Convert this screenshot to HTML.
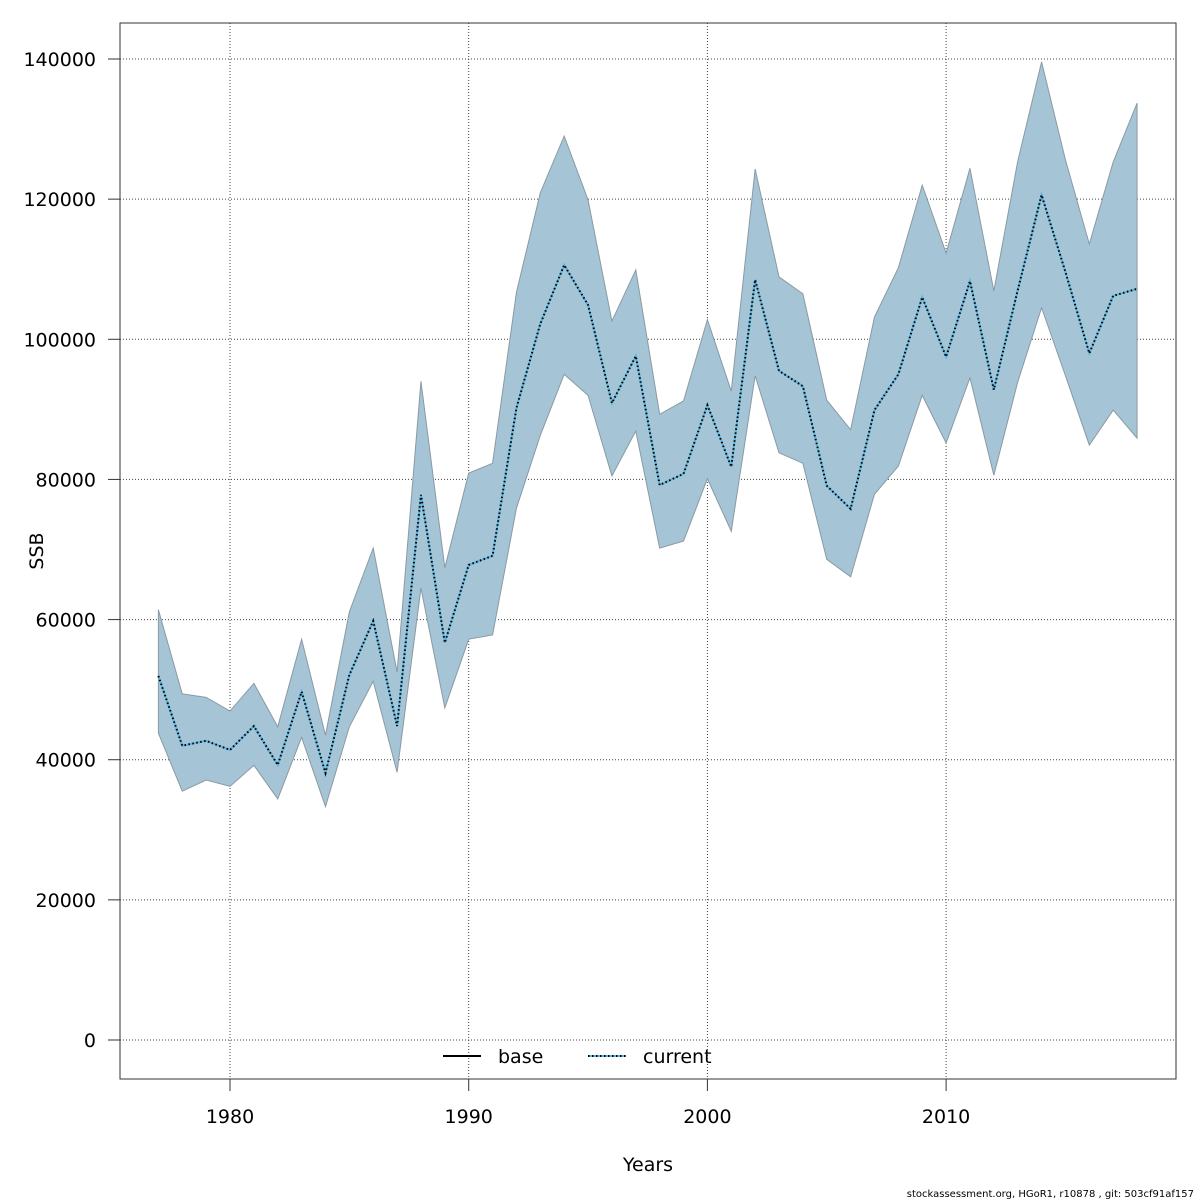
<!DOCTYPE html>
<html><head><meta charset="utf-8"><style>
html,body{margin:0;padding:0;background:#fff;}
svg{display:block;font-family:"DejaVu Sans","Liberation Sans",sans-serif;}
</style></head><body>
<svg id="chart" width="1200" height="1200" viewBox="0 0 1200 1200">
<rect x="0" y="0" width="1200" height="1200" fill="#fff"/>
<g id="grid"></g>
<g id="band"></g>
<g id="lines"></g>
<rect x="120" y="23" width="1056" height="1056" fill="none" stroke="#333" stroke-width="1"/>
<g id="axes"></g>
<text x="648" y="1171" font-size="19" text-anchor="middle">Years</text>
<text transform="translate(43,551) rotate(-90)" font-size="19" text-anchor="middle">SSB</text>
<g>
<g>
<line x1="443" y1="1056" x2="481" y2="1056" stroke="#000" stroke-width="2"/>
<text x="498" y="1063" font-size="19">base</text></g>
<g>
<line x1="588" y1="1056" x2="626" y2="1056" stroke="#5ab4e0" stroke-width="2"/>
<line x1="588" y1="1056" x2="626" y2="1056" stroke="#000" stroke-width="2" stroke-dasharray="1.5,2.5"/>
<text x="643" y="1063" font-size="19">current</text></g>
</g>
<text x="1194" y="1197" font-size="10" text-anchor="end">stockassessment.org, HGoR1, r10878 , git: 503cf91af157</text>
</svg>
<script>
const years = [1977,1978,1979,1980,1981,1982,1983,1984,1985,1986,1987,1988,1989,1990,1991,1992,1993,1994,1995,1996,1997,1998,1999,2000,2001,2002,2003,2004,2005,2006,2007,2008,2009,2010,2011,2012,2013,2014,2015,2016,2017,2018];
const ssb = [51950,42000,42700,41400,44800,39250,49700,38100,52100,59800,44800,77800,56700,67800,69100,90200,102200,110600,104900,90900,97600,79200,80800,90600,81800,108500,95500,93300,79100,75800,89900,95000,106000,97500,108300,92800,107000,120600,109600,98000,106200,107200];
const upper = [61400,49400,48900,46950,50900,44700,57200,43500,61100,70200,52500,94000,67400,80900,82300,106700,120900,129000,119900,102600,109900,89300,91200,102800,92600,124300,108900,106500,91300,87100,103200,110200,122000,112300,124400,106900,125400,139600,125600,113600,125300,133700];
const lower = [43800,35500,37100,36200,39200,34400,43200,33300,44700,51200,38200,64500,47400,57200,57800,75900,86300,95000,92000,80500,86900,70200,71200,80100,72600,94800,83800,82300,68600,66100,77900,81900,92000,85200,94500,80600,93900,104500,94800,84900,89900,85900];
const xTicks = [1980,1990,2000,2010];
const yTicks = [0,20000,40000,60000,80000,100000,120000,140000];

const NS="http://www.w3.org/2000/svg";
function X(v){return 230+(v-1980)*23.87;}
function Y(v){return 1040-v*0.0070071;}
function mk(tag,attrs,parent){const e=document.createElementNS(NS,tag);for(const k in attrs)e.setAttribute(k,attrs[k]);parent.appendChild(e);return e;}
const grid=document.getElementById('grid'),axes=document.getElementById('axes'),band=document.getElementById('band'),lines=document.getElementById('lines');

xTicks.forEach(t=>{
  const g=mk('line',{x1:X(t),y1:23,x2:X(t),y2:1079,stroke:'#444','stroke-width':1,'stroke-dasharray':'1,2'},grid);
  
  
  const tk=mk('line',{x1:X(t),y1:1079,x2:X(t),y2:1091,stroke:'#333','stroke-width':1},axes);
  
  
  const lb=mk('text',{x:X(t),y:1123,'font-size':19,'text-anchor':'middle'},axes);
  lb.textContent=t;
  
  
});
yTicks.forEach(t=>{
  const g=mk('line',{x1:120,y1:Y(t),x2:1176,y2:Y(t),stroke:'#444','stroke-width':1,'stroke-dasharray':'1,2'},grid);
  
  
  const tk=mk('line',{x1:108,y1:Y(t),x2:120,y2:Y(t),stroke:'#333','stroke-width':1},axes);
  
  
  const lb=mk('text',{x:96,y:Y(t)+7,'font-size':19,'text-anchor':'end'},axes);
  lb.textContent=t;
  
  
});

let pts=years.map((y,i)=>X(y)+','+Y(upper[i]));
for(let i=years.length-1;i>=0;i--)pts.push(X(years[i])+','+Y(lower[i]));
const poly=mk('polygon',{points:pts.join(' '),fill:'#a5c4d5',stroke:'#8a9aa3','stroke-width':1},band);



const lp=years.map((y,i)=>X(y)+','+Y(ssb[i])).join(' ');
const base=mk('polyline',{points:lp,fill:'none',stroke:'#5ab4e0','stroke-width':2},lines);


const cur=mk('polyline',{points:lp,fill:'none',stroke:'#000','stroke-width':2,'stroke-dasharray':'1.5,2.5'},lines);


</script>
</body></html>
